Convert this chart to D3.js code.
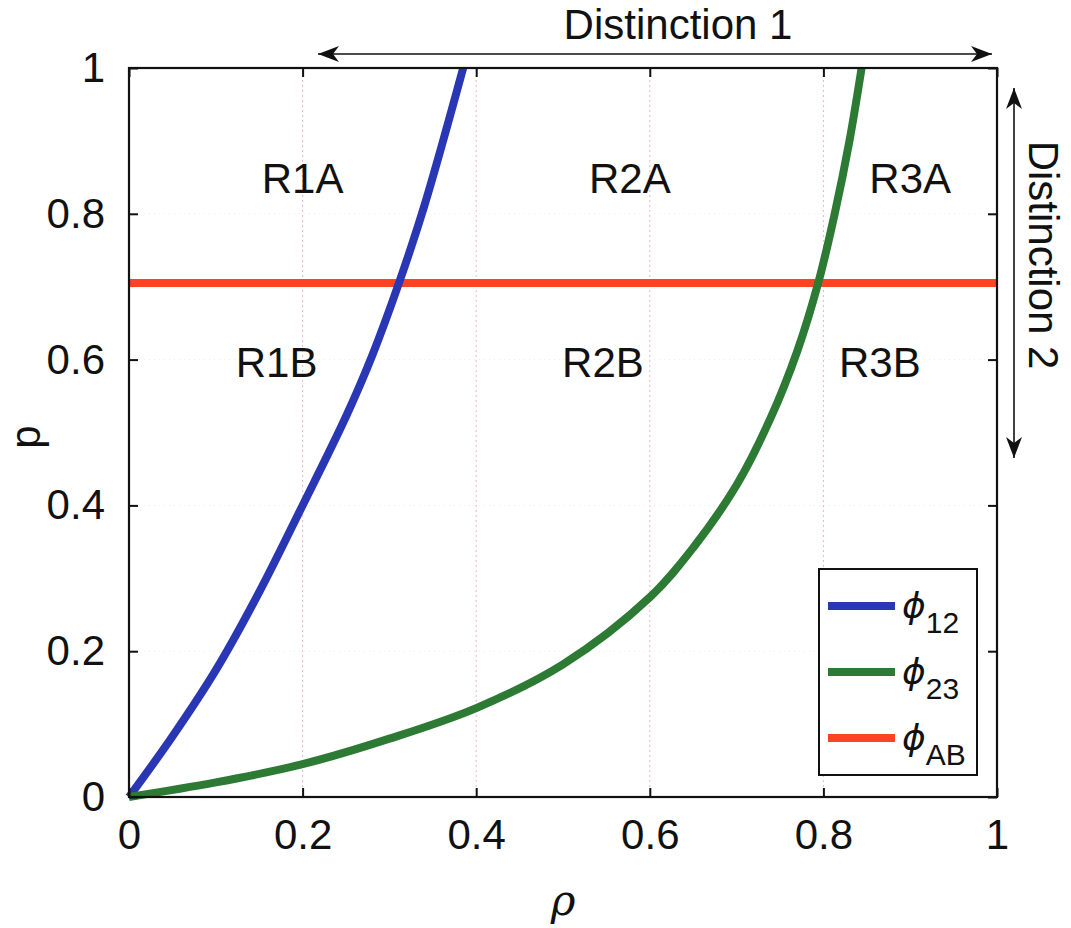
<!DOCTYPE html>
<html>
<head>
<meta charset="utf-8">
<script src="https://cdn.jsdelivr.net/npm/d3@7"></script>
<style>
  html, body { margin: 0; padding: 0; background: #fff; }
  svg { display: block; }
  text { font-family: "Liberation Sans", Arial, sans-serif; fill: #111; }
</style>
</head>
<body>
<svg id="chart" width="1071" height="928"></svg>
<script>
// Axis ticks and labels
const tickValues = [0, 0.2, 0.4, 0.6, 0.8, 1];
const tickLabels = ["0", "0.2", "0.4", "0.6", "0.8", "1"];

// phi_12 boundary (rho, p)
const phi12Rho = [0, 0.05, 0.1, 0.15, 0.2, 0.25, 0.28, 0.311, 0.34, 0.385];
const phi12P   = [0, 0.083, 0.174, 0.281, 0.4, 0.522, 0.605, 0.705, 0.81, 1];

// phi_23 boundary (rho, p)
const phi23Rho = [0, 0.1, 0.2, 0.3, 0.4, 0.5, 0.6, 0.65, 0.7, 0.74, 0.77, 0.794, 0.813, 0.83, 0.844];
const phi23P   = [0, 0.02, 0.045, 0.08, 0.122, 0.182, 0.274, 0.342, 0.428, 0.522, 0.612, 0.705, 0.8, 0.9, 1];

// phi_AB boundary (constant p)
const phiABRho = [0, 1];
const phiABP   = [0.705, 0.705];

// Region labels
const regionNames = ["R1A", "R2A", "R3A", "R1B", "R2B", "R3B"];
const regionRho   = [0.2, 0.577, 0.9, 0.17, 0.546, 0.865];
const regionP     = [0.829, 0.829, 0.829, 0.576, 0.576, 0.576];

// Legend entries
const legendSubs = ["12", "23", "AB"];

const colors = { phi12: "#2a37b4", phi23: "#2c7a34", phiAB: "#fb4520" };

const svg = d3.select("#chart");
const x = d3.scaleLinear().domain([0, 1]).range([129, 997]);
const y = d3.scaleLinear().domain([0, 1]).range([797, 68]);

// Faint grid
const grid = svg.append("g");
grid.selectAll("line.vg").data(tickValues.slice(1, -1)).join("line")
  .attr("x1", d => x(d)).attr("x2", d => x(d))
  .attr("y1", y(0)).attr("y2", y(1))
  .attr("stroke", "#eab6c4").attr("stroke-width", 1)
  .attr("stroke-dasharray", "2,3");
grid.selectAll("line.hg").data(tickValues.slice(1, -1)).join("line")
  .attr("x1", x(0)).attr("x2", x(1))
  .attr("y1", d => y(d)).attr("y2", d => y(d))
  .attr("stroke", "#f4e6ea").attr("stroke-width", 1)
  .attr("stroke-dasharray", "1,4");

// Curves
const line = d3.line().x(d => x(d[0])).y(d => y(d[1])).curve(d3.curveCatmullRom.alpha(0.5));
const plot = svg.append("g");
plot.append("path").datum(d3.zip(phiABRho, phiABP)).attr("d", line)
  .attr("fill", "none").attr("stroke", colors.phiAB).attr("stroke-width", 8);
plot.append("path").datum(d3.zip(phi12Rho, phi12P)).attr("d", line)
  .attr("fill", "none").attr("stroke", colors.phi12).attr("stroke-width", 8);
plot.append("path").datum(d3.zip(phi23Rho, phi23P)).attr("d", line)
  .attr("fill", "none").attr("stroke", colors.phi23).attr("stroke-width", 8);

// Axes with inward ticks on all four sides
const fmt = (d, i) => tickLabels[i];
function styleAxis(g) {
  g.select(".domain").remove();
  g.selectAll(".tick line").attr("stroke", "#111").attr("stroke-width", 2);
  g.selectAll(".tick text").style("font-size", "42px").attr("fill", "#111");
}
svg.append("g").attr("transform", `translate(0,${y(0)})`)
  .call(d3.axisBottom(x).tickValues(tickValues).tickFormat(fmt).tickSizeInner(-9).tickPadding(22))
  .call(styleAxis)
  .call(g => g.selectAll(".tick text").attr("dy", "0.71em"));
svg.append("g").attr("transform", `translate(0,${y(1)})`)
  .call(d3.axisTop(x).tickValues(tickValues).tickFormat("").tickSizeInner(-9))
  .call(styleAxis);
svg.append("g").attr("transform", `translate(${x(0)},0)`)
  .call(d3.axisLeft(y).tickValues(tickValues).tickFormat(fmt).tickSizeInner(-9).tickPadding(24))
  .call(styleAxis);
svg.append("g").attr("transform", `translate(${x(1)},0)`)
  .call(d3.axisRight(y).tickValues(tickValues).tickFormat("").tickSizeInner(-9))
  .call(styleAxis);

// Plot frame
svg.append("rect")
  .attr("x", x(0)).attr("y", y(1))
  .attr("width", x(1) - x(0)).attr("height", y(0) - y(1))
  .attr("fill", "none").attr("stroke", "#111").attr("stroke-width", 2.2);

// Region labels
svg.append("g").selectAll("text").data(regionNames).join("text")
  .attr("x", (d, i) => x(regionRho[i]))
  .attr("y", (d, i) => y(regionP[i]))
  .attr("text-anchor", "middle")
  .style("font-size", "42px")
  .text(d => d);

// Axis titles
svg.append("text")
  .attr("x", 563).attr("y", 915)
  .attr("text-anchor", "middle")
  .style("font-size", "42px").style("font-style", "italic")
  .style("font-family", "'DejaVu Serif', serif")
  .text("ρ");
svg.append("text")
  .attr("transform", "translate(40,437) rotate(-90)")
  .attr("text-anchor", "middle")
  .style("font-size", "42px")
  .text("p");

// Arrow heads
const defs = svg.append("defs");
defs.append("marker")
  .attr("id", "head")
  .attr("viewBox", "-22 -9 24 18")
  .attr("refX", 0).attr("refY", 0)
  .attr("markerWidth", 24).attr("markerHeight", 18)
  .attr("markerUnits", "userSpaceOnUse")
  .attr("orient", "auto-start-reverse")
  .append("path")
  .attr("d", "M0,0 L-21,-8 L-15,0 L-21,8 Z")
  .attr("fill", "#111");

// Distinction 1 (horizontal)
svg.append("line")
  .attr("x1", 318).attr("x2", 992).attr("y1", 54).attr("y2", 54)
  .attr("stroke", "#111").attr("stroke-width", 1.6)
  .attr("marker-start", "url(#head)").attr("marker-end", "url(#head)");
svg.append("text")
  .attr("x", 678).attr("y", 39)
  .attr("text-anchor", "middle")
  .style("font-size", "42px")
  .text("Distinction 1");

// Distinction 2 (vertical)
svg.append("line")
  .attr("x1", 1014).attr("x2", 1014).attr("y1", 88).attr("y2", 458)
  .attr("stroke", "#111").attr("stroke-width", 1.6)
  .attr("marker-start", "url(#head)").attr("marker-end", "url(#head)");
svg.append("text")
  .attr("transform", "translate(1029,255) rotate(90)")
  .attr("text-anchor", "middle")
  .style("font-size", "42px")
  .text("Distinction 2");

// Legend
const legend = svg.append("g");
legend.append("rect")
  .attr("x", 819).attr("y", 569).attr("width", 158).attr("height", 206)
  .attr("fill", "#fff").attr("stroke", "#111").attr("stroke-width", 2);
const legendColors = [colors.phi12, colors.phi23, colors.phiAB];
const rows = legend.selectAll("g.row").data(legendSubs).join("g")
  .attr("transform", (d, i) => `translate(0,${606 + i * 66})`);
rows.append("line")
  .attr("x1", 828).attr("x2", 895).attr("y1", 0).attr("y2", 0)
  .attr("stroke", (d, i) => legendColors[i]).attr("stroke-width", 8);
const lt = rows.append("text").attr("x", 902).attr("y", 12);
lt.append("tspan")
  .style("font-family", "'DejaVu Sans', sans-serif")
  .style("font-style", "italic")
  .style("font-size", "36px")
  .text("ϕ");
lt.append("tspan")
  .attr("dy", 15)
  .style("font-size", "30px")
  .text(d => d);
</script>
</body>
</html>
